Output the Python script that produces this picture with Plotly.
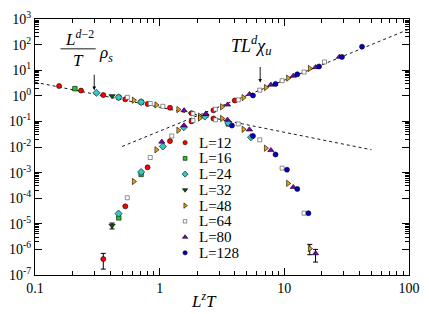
import plotly.graph_objects as go

# ---------------- data ----------------
# x = L^z T ; rho = L^(d-2) rho_s / T ; chi = T L^d chi_u   (None = not shown)
L12_x   = [0.156, 0.234, 0.353, 0.53, 0.80, 1.21, 1.80, 2.70, 4.0]
L12_rho = [2.4, 1.6, 1.07, 0.73, 0.48, 0.34, 0.21, 0.13, None]
L12_chi = [None, None, 4.2e-7, 4.8e-5, 1.6e-3, 0.017, 0.10, 0.27, 0.66]
L12_chi_eplus  = [None, None, 2.8e-7, None, None, None, None, None, None]
L12_chi_eminus = [None, None, 2.5e-7, None, None, None, None, None, None]

L16_x   = [0.209, 0.47, 0.71, 3.55]
L16_rho = [1.9, 0.87, 0.57, 0.08]
L16_chi = [None, 1.7e-5, 8.5e-4, None]

L24_x   = [0.311, 0.468, 0.71, 1.06, 1.56, 2.3, 3.55, 5.4]
L24_rho = [1.31, 0.87, 0.57, None, None, 0.155, 0.087, 0.024]
L24_chi = [None, 2.5e-5, 1.05e-3, 0.0105, 0.059, None, None, None]

L32_x   = [0.415]
L32_rho = [0.98]
L32_chi = [8.5e-6]
L32_chi_eplus  = [2.2e-6]
L32_chi_eminus = [2.2e-6]

L48_x   = [0.62, 0.94, 1.41, 2.1, 3.16, 4.7, 7.1, 10.7, 16.0]
L48_rho = [0.67, 0.44, 0.29, 0.16, 0.13, 0.049, 0.009, 3.8e-4, 1.07e-6]
L48_chi = [4.5e-4, 7.8e-3, 0.045, 0.135, 0.37, 0.85, 2.1, 4.9, 11.7]
L48_rho_eplus  = [None, None, None, None, None, None, None, None, 0.5e-6]
L48_rho_eminus = [None, None, None, None, None, None, None, None, 0.45e-6]

L64_x   = [0.55, 0.84, 1.06, 1.25, 1.85, 2.8, 4.27, 6.35, 9.6, 14.4, 21.0]
L64_rho = [0.87, 0.50, 0.39, None, 0.20, 0.115, 0.08, 0.019, 1.5e-3, 2.6e-5, None]
L64_chi = [1.04e-4, 3.9e-3, None, 0.027, 0.107, 0.30, 0.69, 1.66, 3.9, 8.5, 21.0]

L80_x   = [1.04, 1.57, 2.35, 3.5, 5.25, 7.8, 11.8, 17.8, 27.6]
L80_rho = [None, 0.27, 0.19, 0.115, 0.048, 0.0075, 2.7e-4, 7e-7, None]
L80_chi = [0.016, 0.069, 0.20, 0.45, 1.16, 2.7, 6.0, 13.0, 33.0]
L80_rho_eplus  = [None, None, None, None, None, None, None, 3e-7, None]
L80_rho_eminus = [None, None, None, None, None, None, None, 3.8e-7, None]

L128_x   = [3.8, 5.6, 8.5, 10.5, 12.7, 15.6, 19.0, 29.0, 42.0]
L128_rho = [0.069, 0.027, 0.0051, 1.3e-3, 2.3e-4, 2.6e-5, None, None, None]
L128_chi = [None, 1.03, 2.9, None, 6.9, None, 14.0, 33.0, 83.0]

# dashed guide lines (end points)
fit_rho_x = [0.1, 50.0]
fit_rho_y = [3.4, 0.0078]
fit_chi_x = [0.5, 100.0]
fit_chi_y = [0.0105, 398.0]

x_tick_vals = [0.1, 1, 10, 100]
x_tick_text = ["0.1", "1", "10", "100"]
y_tick_exps = [-7, -6, -5, -4, -3, -2, -1, 0, 1, 2, 3]
y_minor_decades = [-6, -4, -2, 0, 2]

# ---------------- layout helpers ----------------
W, H = 429, 314
ML, MR, MT, MB = 34, 13, 9, 39
PW = W - ML - MR
PH = H - MT - MB


def pxx(px):
    return (px - ML) / PW


def pxy(py):
    return (H - MB - py) / PH


SERIF = "Liberation Serif"

styles = {
    "L=12": dict(symbol="circle", color="#ff0000", size=5),
    "L=16": dict(symbol="square", color="#22cc22", size=4.5),
    "L=24": dict(symbol="diamond", color="#33c8c8", size=5.5),
    "L=32": dict(symbol="triangle-down", color="#005a00", size=5.5),
    "L=48": dict(symbol="triangle-right", color="#f0a000", size=5.5),
    "L=64": dict(symbol="square", color="#ffffff", size=4),
    "L=80": dict(symbol="triangle-up", color="#8000c0", size=5.5),
    "L=128": dict(symbol="circle", color="#0000cc", size=5),
}

series = [
    ("L=12", L12_x, L12_rho, L12_chi, None, (L12_chi_eplus, L12_chi_eminus)),
    ("L=16", L16_x, L16_rho, L16_chi, None, None),
    ("L=24", L24_x, L24_rho, L24_chi, None, None),
    ("L=32", L32_x, L32_rho, L32_chi, None, (L32_chi_eplus, L32_chi_eminus)),
    ("L=48", L48_x, L48_rho, L48_chi, (L48_rho_eplus, L48_rho_eminus), None),
    ("L=64", L64_x, L64_rho, L64_chi, None, None),
    ("L=80", L80_x, L80_rho, L80_chi, (L80_rho_eplus, L80_rho_eminus), None),
    ("L=128", L128_x, L128_rho, L128_chi, None, None),
]

fig = go.Figure()

for fx, fy in ((fit_rho_x, fit_rho_y), (fit_chi_x, fit_chi_y)):
    fig.add_trace(go.Scatter(x=fx, y=fy, mode="lines",
                             line=dict(color="black", width=0.9, dash="3px,3px"),
                             showlegend=False, hoverinfo="skip"))


def marker_of(name, scale=1.0):
    st = styles[name]
    lc = "#444444" if name == "L=64" else "black"
    return dict(symbol=st["symbol"], color=st["color"], size=st["size"] * scale,
                line=dict(color=lc, width=0.6))


for name, xs, rho, chi, rho_e, chi_e in series:
    for ys, errs in ((rho, rho_e), (chi, chi_e)):
        px_, py_ = [], []
        ex, ey, ep, em = [], [], [], []
        for i, (xv, yv) in enumerate(zip(xs, ys)):
            if yv is None:
                continue
            if errs is not None and errs[0][i] is not None:
                ex.append(xv); ey.append(yv)
                ep.append(errs[0][i]); em.append(errs[1][i])
            else:
                px_.append(xv); py_.append(yv)
        if ex:
            fig.add_trace(go.Scatter(
                x=ex, y=ey, mode="markers", marker=marker_of(name),
                error_y=dict(type="data", array=ep, arrayminus=em, symmetric=False,
                             color="black", thickness=1, width=2.5),
                showlegend=False))
        fig.add_trace(go.Scatter(x=px_, y=py_, mode="markers",
                                 marker=marker_of(name), showlegend=False))

# manual legend (marker column on an invisible overlay axis, labels as text)
leg_marker_x = pxx(187.3)
leg_text_x = pxx(199)
leg_rows = [pxy(137.5 + 16.35 * i) for i in range(len(series))]
for (name, *_), ly in zip(series, leg_rows):
    fig.add_trace(go.Scatter(x=[leg_marker_x], y=[ly], xaxis="x2", yaxis="y2",
                             mode="markers", marker=marker_of(name, 0.85),
                             showlegend=False, hoverinfo="skip"))

annotations = []
for (name, *_), ly in zip(series, leg_rows):
    annotations.append(dict(xref="paper", yref="paper", x=leg_text_x, y=ly,
                            text=name, showarrow=False, xanchor="left",
                            yanchor="middle",
                            font=dict(family=SERIF, size=15, color="black")))

# rho_s label as a fraction
annotations += [
    dict(xref="paper", yref="paper", x=pxx(79), y=pxy(29),
         text="<i>L</i><sup><i>d</i>−2</sup>", showarrow=False,
         xanchor="center", yanchor="middle",
         font=dict(family=SERIF, size=17, color="black")),
    dict(xref="paper", yref="paper", x=pxx(78), y=pxy(52),
         text="<i>T</i>", showarrow=False, xanchor="center", yanchor="middle",
         font=dict(family=SERIF, size=17, color="black")),
    dict(xref="paper", yref="paper", x=pxx(97), y=pxy(45),
         text="<i>ρ</i><sub><i>s</i></sub>", showarrow=False,
         xanchor="left", yanchor="middle",
         font=dict(family=SERIF, size=17, color="black")),
    dict(xref="paper", yref="paper", x=pxx(255), y=pxy(37),
         text="<i>TL</i><sup><i>d</i></sup><i>χ</i><sub><i>u</i></sub>",
         showarrow=False, xanchor="center", yanchor="middle",
         font=dict(family=SERIF, size=18, color="black")),
    dict(xref="paper", yref="paper", x=pxx(94.5), y=pxy(83), text="",
         showarrow=True, ax=0, ay=-17, arrowhead=2, arrowsize=0.8,
         arrowwidth=0.9, arrowcolor="black"),
    dict(xref="paper", yref="paper", x=pxx(264), y=pxy(75), text="",
         showarrow=True, ax=0, ay=-17, arrowhead=2, arrowsize=0.8,
         arrowwidth=0.9, arrowcolor="black"),
    dict(xref="paper", yref="paper", x=pxx(207), y=pxy(301),
         text="<i>L<sup>z</sup>T</i>", showarrow=False,
         xanchor="center", yanchor="middle",
         font=dict(family=SERIF, size=17, color="black")),
]

shapes = [dict(type="line", xref="paper", yref="paper",
               x0=pxx(60), x1=pxx(96), y0=pxy(40), y1=pxy(40),
               line=dict(color="black", width=0.9))]

x_minor = [m * 10.0 ** k for k in (-1, 0, 1) for m in range(2, 10)]
y_minor = [m * 10.0 ** k for k in y_minor_decades for m in range(2, 10)]

axis_common = dict(type="log", showgrid=False, zeroline=False, showline=True,
                   linecolor="black", linewidth=1, mirror="ticks",
                   ticks="inside", ticklen=7, tickwidth=1, tickcolor="black",
                   tickmode="array",
                   tickfont=dict(family=SERIF, size=14, color="black"))

fig.update_layout(
    width=W, height=H,
    margin=dict(l=ML, r=MR, t=MT, b=MB),
    paper_bgcolor="white", plot_bgcolor="white",
    showlegend=False,
    xaxis=dict(range=[-1, 2], tickvals=x_tick_vals, ticktext=x_tick_text,
               minor=dict(tickmode="array", tickvals=x_minor, ticks="inside",
                          ticklen=4, tickcolor="black", tickwidth=1),
               **axis_common),
    yaxis=dict(range=[-7, 3], tickvals=[10.0 ** e for e in y_tick_exps],
               ticktext=["10<sup>%d</sup>" % e for e in y_tick_exps],
               minor=dict(tickmode="array", tickvals=y_minor, ticks="inside",
                          ticklen=4, tickcolor="black", tickwidth=1),
               **axis_common),
    xaxis2=dict(overlaying="x", range=[0, 1], visible=False),
    yaxis2=dict(overlaying="y", range=[0, 1], visible=False),
    annotations=annotations,
    shapes=shapes,
)

fig.write_html("out.html",
               config={"displayModeBar": False},
               post_script="document.body.style.margin='0px';"
                           "document.body.style.overflow='hidden';")
